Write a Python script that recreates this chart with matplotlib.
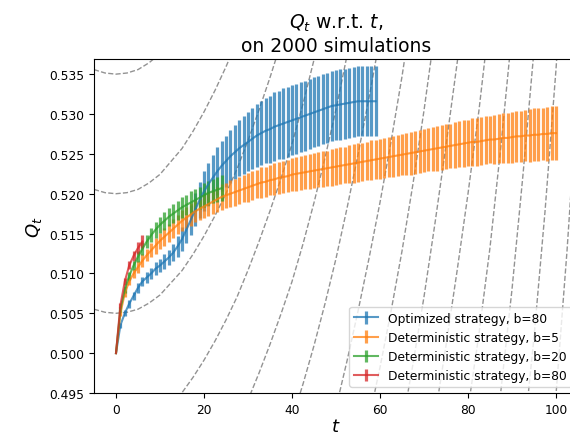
import numpy as np
import matplotlib
matplotlib.use("Agg")
import matplotlib.pyplot as plt

# ---------------- data ----------------
blue_label = "Optimized strategy, b=80"
blue_mean = [0.5000, 0.5035, 0.5050, 0.5062, 0.5072, 0.5082, 0.5090, 0.5095, 0.5100, 0.5106,
             0.5110, 0.5115, 0.5120, 0.5126, 0.5134, 0.5143, 0.5155, 0.5167, 0.5180, 0.5192,
             0.5203, 0.5212, 0.5220, 0.5228, 0.5235, 0.5241, 0.5247, 0.5252, 0.5257, 0.5261,
             0.5265, 0.5269, 0.5273, 0.5276, 0.5279, 0.5281, 0.5284, 0.5286, 0.5288, 0.5290,
             0.5292, 0.5294, 0.5296, 0.5298, 0.5300, 0.5302, 0.5304, 0.5306, 0.5308, 0.5310,
             0.5311, 0.5312, 0.5313, 0.5314, 0.5315, 0.5316, 0.5316, 0.5316, 0.5316, 0.5316]
blue_err = [0.0000, 0.0003, 0.0004, 0.0005, 0.0005, 0.0006, 0.0006, 0.0007, 0.0007, 0.0008,
            0.0008, 0.0009, 0.0010, 0.0011, 0.0013, 0.0015, 0.0017, 0.0019, 0.0021, 0.0023,
            0.0025, 0.0027, 0.0029, 0.0030, 0.0031, 0.0032, 0.0033, 0.0034, 0.0035, 0.0036,
            0.0037, 0.0038, 0.0039, 0.0040, 0.0041, 0.0042, 0.0043, 0.0043, 0.0044, 0.0044,
            0.0044, 0.0044, 0.0044, 0.0044, 0.0044, 0.0044, 0.0044, 0.0044, 0.0044, 0.0044,
            0.0044, 0.0044, 0.0044, 0.0044, 0.0044, 0.0044, 0.0044, 0.0044, 0.0044, 0.0044]

orange_label = "Deterministic strategy, b=5"
orange_mean = [0.5000, 0.5050, 0.5075, 0.5090, 0.5100, 0.5108, 0.5116, 0.5123, 0.5129, 0.5135,
               0.5141, 0.5146, 0.5151, 0.5156, 0.5161, 0.5166, 0.5170, 0.5174, 0.5178, 0.5181,
               0.5184, 0.5187, 0.5190, 0.5193, 0.5196, 0.5198, 0.5200, 0.5202, 0.5204, 0.5206,
               0.5208, 0.5210, 0.5212, 0.5214, 0.5215, 0.5217, 0.5218, 0.5220, 0.5221, 0.5222,
               0.5224, 0.5225, 0.5226, 0.5227, 0.5228, 0.5229, 0.5230, 0.5231, 0.5232, 0.5233,
               0.5234, 0.5235, 0.5236, 0.5237, 0.5238, 0.5239, 0.5240, 0.5241, 0.5242, 0.5243,
               0.5244, 0.5245, 0.5246, 0.5247, 0.5248, 0.5249, 0.5250, 0.5251, 0.5252, 0.5253,
               0.5254, 0.5255, 0.5256, 0.5257, 0.5258, 0.5259, 0.5260, 0.5261, 0.5262, 0.5263,
               0.5264, 0.5265, 0.5265, 0.5266, 0.5267, 0.5268, 0.5268, 0.5269, 0.5270, 0.5270,
               0.5271, 0.5272, 0.5272, 0.5273, 0.5273, 0.5274, 0.5274, 0.5275, 0.5275, 0.5276,
               0.5276]
orange_err = [0.0000, 0.0003, 0.0004, 0.0005, 0.0006, 0.0007, 0.0008, 0.0008, 0.0009, 0.0010,
              0.0010, 0.0011, 0.0011, 0.0012, 0.0012, 0.0013, 0.0013, 0.0014, 0.0014, 0.0014,
              0.0015, 0.0015, 0.0015, 0.0016, 0.0016, 0.0016, 0.0017, 0.0017, 0.0017, 0.0017,
              0.0018, 0.0018, 0.0018, 0.0019, 0.0019, 0.0019, 0.0020, 0.0020, 0.0020, 0.0020,
              0.0021, 0.0021, 0.0021, 0.0021, 0.0022, 0.0022, 0.0022, 0.0022, 0.0022, 0.0023,
              0.0023, 0.0023, 0.0023, 0.0024, 0.0024, 0.0024, 0.0024, 0.0024, 0.0025, 0.0025,
              0.0025, 0.0025, 0.0025, 0.0026, 0.0026, 0.0026, 0.0026, 0.0027, 0.0027, 0.0027,
              0.0027, 0.0027, 0.0028, 0.0028, 0.0028, 0.0028, 0.0028, 0.0029, 0.0029, 0.0029,
              0.0029, 0.0030, 0.0030, 0.0030, 0.0030, 0.0030, 0.0031, 0.0031, 0.0031, 0.0031,
              0.0032, 0.0032, 0.0032, 0.0032, 0.0033, 0.0033, 0.0033, 0.0033, 0.0034, 0.0034,
              0.0034]

green_label = "Deterministic strategy, b=20"
green_mean = [0.5000, 0.5055, 0.5080, 0.5097, 0.5110, 0.5121, 0.5131, 0.5140, 0.5148, 0.5155,
              0.5161, 0.5166, 0.5171, 0.5175, 0.5179, 0.5183, 0.5186, 0.5189, 0.5192, 0.5195,
              0.5198, 0.5201, 0.5203, 0.5205, 0.5207]
green_err = [0.0000, 0.0003, 0.0004, 0.0005, 0.0006, 0.0007, 0.0008, 0.0008, 0.0009, 0.0010,
             0.0010, 0.0011, 0.0011, 0.0012, 0.0012, 0.0013, 0.0013, 0.0014, 0.0014, 0.0014,
             0.0015, 0.0015, 0.0015, 0.0016, 0.0016]

red_label = "Deterministic strategy, b=80"
red_mean = [0.5000, 0.5060, 0.5090, 0.5110, 0.5122, 0.5132, 0.5140]
red_err = [0.0000, 0.0003, 0.0004, 0.0005, 0.0006, 0.0007, 0.0008]

# background dashed guide curves: Q = guide_base + level * guide_shape(t)
guide_base = 0.25
guide_levels = [0.285, 0.270, 0.255, 0.240, 0.225, 0.210, 0.195, 0.180,
                0.165, 0.150, 0.135, 0.120, 0.105, 0.090]
guide_t = [-5, -2.5, 0, 2.5, 5, 7.5, 10, 12.5, 15, 17.5, 20, 22.5, 25, 27.5, 30,
           32.5, 35, 37.5, 40, 42.5, 45, 47.5, 50, 52.5, 55, 57.5, 60, 62.5, 65,
           67.5, 70, 72.5, 75, 77.5, 80, 82.5, 85, 87.5, 90, 92.5, 95, 97.5, 100,
           102.5, 105]
guide_shape = [1.002, 1.0005, 1.000, 1.0005, 1.002, 1.005, 1.009, 1.015, 1.021, 1.029,
               1.038, 1.048, 1.059, 1.071, 1.085, 1.100, 1.116, 1.133, 1.151, 1.172,
               1.195, 1.220, 1.247, 1.277, 1.309, 1.343, 1.379, 1.418, 1.460, 1.507,
               1.558, 1.614, 1.673, 1.735, 1.800, 1.870, 1.950, 2.045, 2.150, 2.270,
               2.400, 2.550, 2.720, 2.920, 3.150]

title_text = "$Q_t$ w.r.t. $t$,\non 2000 simulations"
xlabel_text = "$t$"
ylabel_text = "$Q_t$"
yticks = [0.495, 0.500, 0.505, 0.510, 0.515, 0.520, 0.525, 0.530, 0.535]
xticks = [0, 20, 40, 60, 80, 100]

# ---------------- plot ----------------
plt.rcParams['font.family'] = ['DejaVu Sans']
plt.rcParams['font.size'] = 8.8

fig = plt.figure(figsize=(5.7, 4.35), dpi=100)
ax = fig.add_axes([94 / 570, 41 / 435, 484 / 570, 334 / 435])

gt = np.array(guide_t, dtype=float)
gs = np.array(guide_shape, dtype=float)
for lev in guide_levels:
    ax.plot(gt, guide_base + lev * gs, linestyle='--', color='gray',
            linewidth=1.0, alpha=0.85, zorder=1)

series = [
    (blue_mean, blue_err, blue_label, 'tab:blue'),
    (orange_mean, orange_err, orange_label, 'tab:orange'),
    (green_mean, green_err, green_label, 'tab:green'),
    (red_mean, red_err, red_label, 'tab:red'),
]
for mean, err, lab, col in series:
    t = np.arange(len(mean))
    ax.errorbar(t, mean, yerr=err, color=col, label=lab, linewidth=1.5,
                elinewidth=2.3, capsize=0, alpha=0.75, zorder=2)

ax.set_xlim(-5, 105)
ax.set_ylim(0.495, 0.5369)
ax.set_yticks(yticks)
ax.set_xticks(xticks)
ax.set_title(title_text, fontsize=13.5)
ax.set_xlabel(xlabel_text, fontsize=13, labelpad=1)
ax.set_ylabel(ylabel_text, fontsize=13)
ax.legend(loc='lower right', fontsize=8.8)

fig.savefig("out.png", dpi=100)
